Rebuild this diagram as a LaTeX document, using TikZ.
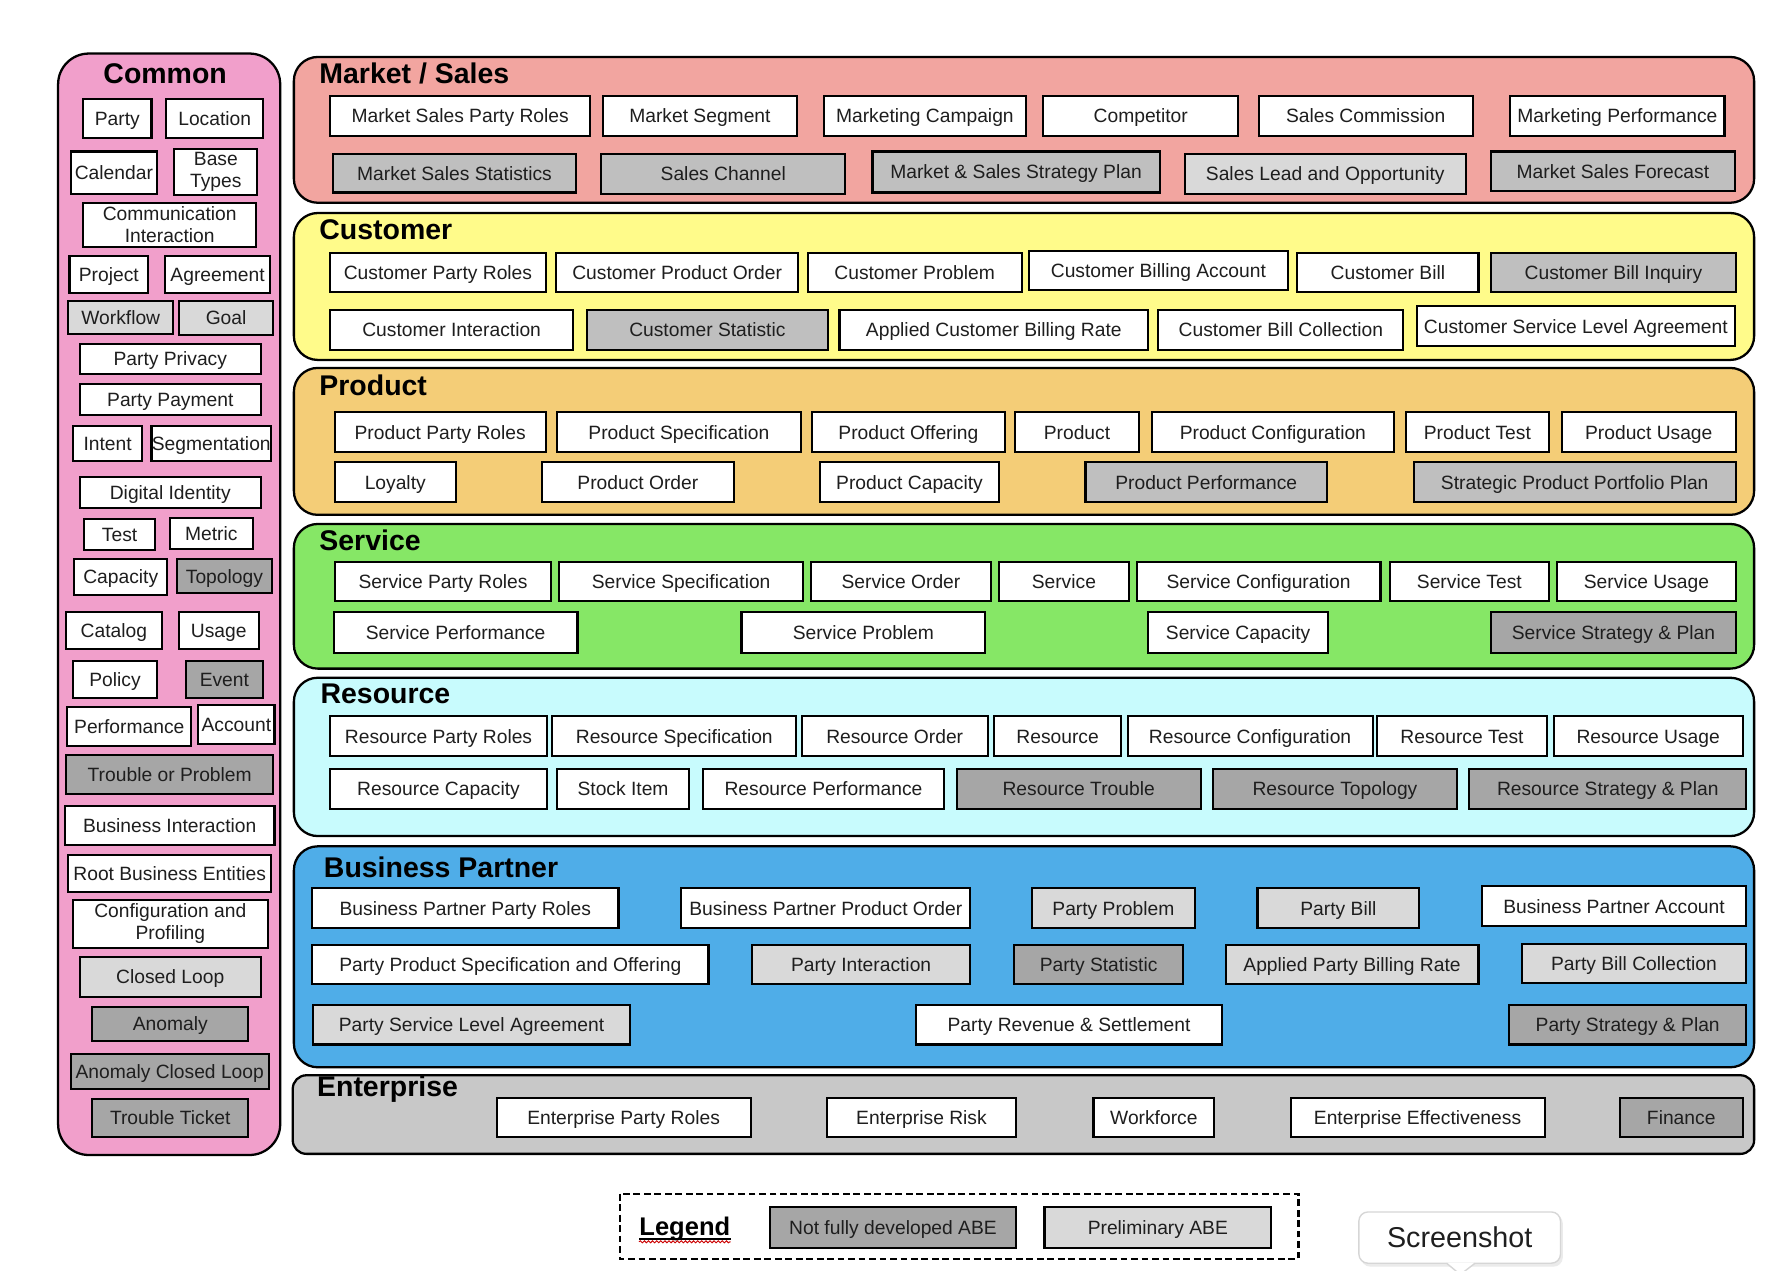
\documentclass[tikz,border=0pt]{standalone}
\usepackage{fontspec}
\setmainfont{Liberation Sans}
\usetikzlibrary{decorations.pathmorphing}
\definecolor{commonc}{HTML}{F19FCB}
\definecolor{marketc}{HTML}{F2A5A0}
\definecolor{customerc}{HTML}{FFFB8A}
\definecolor{productc}{HTML}{F4CD77}
\definecolor{servicec}{HTML}{86E766}
\definecolor{resourcec}{HTML}{C8FBFD}
\definecolor{bpc}{HTML}{4FADE8}
\definecolor{enterc}{HTML}{C8C8C8}
\definecolor{gdark}{HTML}{A6A6A6}
\definecolor{gmid}{HTML}{BFBFBF}
\definecolor{glight}{HTML}{D9D9D9}
\definecolor{txt}{HTML}{1E1E1E}
\tikzset{
  abe/.style={draw=black, line width=0.9pt, inner sep=0pt, outer sep=0pt,
    align=center, text=txt, font=\fontsize{8.45pt}{9.6pt}\selectfont},
  panel/.style={draw=black, line width=1pt},
  ptitle/.style={font=\fontsize{12.5pt}{14pt}\selectfont\bfseries, anchor=base west, inner sep=0pt, text=black},
}
\newcommand{\abx}[7]{%
  \node[abe, fill=#6, minimum width={(#4-#2)*0.5pt}, minimum height={(#5-#3)*0.5pt},
    text height=7pt, text depth=0.95pt] (#1) at ({(#2+#4)/2},{(#3+#5)/2}) {#7};}
\newcommand{\abxm}[7]{%
  \node[abe, fill=#6, minimum width={(#4-#2)*0.5pt}, minimum height={(#5-#3)*0.5pt}]
    (#1) at ({(#2+#4)/2},{(#3+#5)/2}) {#7};}
\begin{document}
\begin{tikzpicture}[x=0.5pt,y=-0.5pt]
\useasboundingbox (0,0) rectangle (1568,1115);
\fill[white] (0,0) rectangle (1568,1115);

% ---------- panels ----------
\draw[panel, fill=commonc, rounded corners=13.5pt] (51,47) rectangle (246,1014);
\draw[panel, fill=marketc, rounded corners=10.5pt] (258,50) rectangle (1540,178);
\draw[panel, fill=customerc, rounded corners=10.5pt] (258,187) rectangle (1540,316);
\draw[panel, fill=productc, rounded corners=10.5pt] (258,323) rectangle (1540,452);
\draw[panel, fill=servicec, rounded corners=10.5pt] (258,460) rectangle (1540,587);
\draw[panel, fill=resourcec, rounded corners=10.5pt] (258,595) rectangle (1540,734);
\draw[panel, fill=bpc, rounded corners=10.5pt] (258,743) rectangle (1540,937);
\draw[panel, fill=enterc, rounded corners=6pt] (257,944) rectangle (1540,1013);

% ---------- titles ----------
\node[ptitle, anchor=base] (tcommon) at (145,73) {Common};
\node[ptitle] (tmarket) at (280,73) {Market / Sales};
\node[ptitle] (tcustomer) at (280,210) {Customer};
\node[ptitle] (tproduct) at (280,347) {Product};
\node[ptitle] (tservice) at (280,483) {Service};
\node[ptitle] (tresource) at (281,618) {Resource};
\node[ptitle] (tbp) at (284,770) {Business Partner};
\node[ptitle] (tenter) at (278,963) {Enterprise};

% ---------- Common ----------
\abx{party}{73}{87}{133}{121}{white}{Party}
\abx{location}{146}{87}{231}{121}{white}{Location}
\abx{calendar}{62}{133}{138}{170}{white}{Calendar}
\abxm{basetypes}{153}{131}{226}{171}{white}{Base\\Types}
\abxm{comm}{73}{178}{225}{217}{white}{Communication\\Interaction}
\abx{project}{61}{225}{130}{257}{white}{Project}
\abx{agreement}{145}{225}{237}{257}{white}{Agreement}
\abx{workflow}{60}{264}{152}{293}{glight}{Workflow}
\abx{goal}{157}{264}{240}{294}{glight}{Goal}
\abx{privacy}{70}{302}{229}{328}{white}{Party Privacy}
\abx{payment}{70}{337}{229}{364}{white}{Party Payment}
\abx{intent}{64}{374}{125}{405}{white}{Intent}
\abx{segm}{133}{374}{238}{405}{white}{Segmentation}
\abx{digid}{70}{419}{229}{446}{white}{Digital Identity}
\abx{test}{74}{456}{136}{483}{white}{Test}
\abx{metric}{149}{455}{222}{482}{white}{Metric}
\abx{capacity}{65}{491}{147}{522}{white}{Capacity}
\abx{topology}{155}{491}{239}{521}{gdark}{Topology}
\abx{catalog}{58}{537}{142}{570}{white}{Catalog}
\abx{usage}{157}{537}{227}{570}{white}{Usage}
\abx{policy}{64}{580}{138}{613}{white}{Policy}
\abx{event}{163}{580}{231}{613}{gdark}{Event}
\abx{perf}{59}{621}{168}{655}{white}{Performance}
\abx{account}{174}{619}{241}{653}{white}{Account}
\abx{trouble}{58}{663}{240}{697}{gdark}{Trouble or Problem}
\abx{bizint}{57}{708}{241}{742}{white}{Business Interaction}
\abx{rootbe}{60}{751}{238}{783}{white}{Root Business Entities}
\abxm{config}{64}{790}{235}{832}{white}{Configuration and\\Profiling}
\abx{closedloop}{70}{840}{229}{875}{glight}{Closed Loop}
\abx{anomaly}{81}{884}{218}{914}{gdark}{Anomaly}
\abx{anomalycl}{62}{925}{236}{956}{gdark}{Anomaly Closed Loop}
\abx{tticket}{81}{965}{218}{998}{gdark}{Trouble Ticket}

% ---------- Market / Sales ----------
\abx{msproles}{290}{84}{518}{119}{white}{Market Sales Party Roles}
\abx{mseg}{529}{84}{700}{119}{white}{Market Segment}
\abx{mcamp}{723}{84}{901}{119}{white}{Marketing Campaign}
\abx{compet}{916}{84}{1087}{119}{white}{Competitor}
\abx{scomm}{1105}{84}{1293}{119}{white}{Sales Commission}
\abx{mperf}{1326}{84}{1514}{119}{white}{Marketing Performance}
\abx{msstat}{292}{135}{506}{169}{gmid}{Market Sales Statistics}
\abx{schan}{528}{135}{742}{170}{gmid}{Sales Channel}
\abx{msplan}{766}{133}{1018}{169}{gmid}{Market \& Sales Strategy Plan}
\abx{slead}{1040}{135}{1287}{170}{glight}{Sales Lead and Opportunity}
\abx{msfore}{1309}{133}{1523}{168}{gmid}{Market Sales Forecast}

% ---------- Customer ----------
\abx{cproles}{290}{222}{479}{256}{white}{Customer Party Roles}
\abx{cporder}{488}{222}{701}{256}{white}{Customer Product Order}
\abx{cprob}{709}{222}{897}{256}{white}{Customer Problem}
\abx{cbacc}{903}{220}{1131}{255}{white}{Customer Billing Account}
\abx{cbill}{1139}{222}{1298}{256}{white}{Customer Bill}
\abx{cbinq}{1309}{222}{1524}{256}{gmid}{Customer Bill Inquiry}
\abx{cint}{290}{272}{503}{307}{white}{Customer Interaction}
\abx{cstat}{515}{272}{727}{307}{gmid}{Customer Statistic}
\abx{acbr}{737}{272}{1008}{307}{white}{Applied Customer Billing Rate}
\abx{cbcoll}{1017}{272}{1232}{307}{white}{Customer Bill Collection}
\abx{csla}{1244}{269}{1523}{304}{white}{Customer Service Level Agreement}

% ---------- Product ----------
\abx{pproles}{294}{362}{479}{397}{white}{Product Party Roles}
\abx{pspec}{489}{362}{703}{397}{white}{Product Specification}
\abx{poff}{713}{362}{882}{397}{white}{Product Offering}
\abx{prod}{891}{362}{1000}{397}{white}{Product}
\abx{pconf}{1011}{362}{1224}{397}{white}{Product Configuration}
\abx{ptest}{1234}{362}{1360}{397}{white}{Product Test}
\abx{pusage}{1371}{362}{1524}{397}{white}{Product Usage}
\abx{loyalty}{294}{406}{400}{441}{white}{Loyalty}
\abx{porder}{476}{406}{644}{441}{white}{Product Order}
\abx{pcap}{720}{406}{877}{441}{white}{Product Capacity}
\abx{pperf}{953}{406}{1165}{441}{gmid}{Product Performance}
\abx{sppp}{1241}{406}{1524}{441}{gmid}{Strategic Product Portfolio Plan}

% ---------- Service ----------
\abx{sproles}{294}{493}{484}{528}{white}{Service Party Roles}
\abx{sspec}{491}{493}{705}{528}{white}{Service Specification}
\abx{sorder}{712}{493}{870}{528}{white}{Service Order}
\abx{serv}{877}{493}{991}{528}{white}{Service}
\abx{sconf}{998}{493}{1212}{528}{white}{Service Configuration}
\abx{stest}{1220}{493}{1360}{528}{white}{Service Test}
\abx{susage}{1367}{493}{1524}{528}{white}{Service Usage}
\abx{sperf}{293}{537}{507}{573}{white}{Service Performance}
\abx{sprob}{651}{537}{865}{573}{white}{Service Problem}
\abx{scap}{1008}{537}{1166}{573}{white}{Service Capacity}
\abx{ssplan}{1309}{537}{1524}{573}{gdark}{Service Strategy \& Plan}

% ---------- Resource ----------
\abx{rproles}{290}{629}{480}{664}{white}{Resource Party Roles}
\abx{rspec}{485}{629}{699}{664}{white}{Resource Specification}
\abx{rorder}{704}{629}{867}{664}{white}{Resource Order}
\abx{res}{873}{629}{984}{664}{white}{Resource}
\abx{rconf}{990}{629}{1205}{664}{white}{Resource Configuration}
\abx{rtest}{1209}{629}{1358}{664}{white}{Resource Test}
\abx{rusage}{1364}{629}{1530}{664}{white}{Resource Usage}
\abx{rcap}{290}{675}{480}{710}{white}{Resource Capacity}
\abx{stock}{489}{675}{605}{710}{white}{Stock Item}
\abx{rperf}{617}{675}{829}{710}{white}{Resource Performance}
\abx{rtrouble}{840}{675}{1054}{710}{gdark}{Resource Trouble}
\abx{rtopo}{1065}{675}{1279}{710}{gdark}{Resource Topology}
\abx{rsplan}{1290}{675}{1533}{710}{gdark}{Resource Strategy \& Plan}

% ---------- Business Partner ----------
\abx{bpproles}{274}{780}{543}{815}{white}{Business Partner Party Roles}
\abx{bppo}{598}{780}{852}{815}{white}{Business Partner Product Order}
\abx{pprob}{906}{780}{1049}{815}{glight}{Party Problem}
\abx{pbill}{1104}{780}{1246}{815}{glight}{Party Bill}
\abx{bpacc}{1301}{778}{1533}{813}{white}{Business Partner Account}
\abx{ppso}{274}{830}{622}{864}{white}{Party Product Specification and Offering}
\abx{pint}{660}{830}{852}{864}{glight}{Party Interaction}
\abx{pstat}{890}{830}{1039}{864}{gdark}{Party Statistic}
\abx{apbr}{1076}{830}{1298}{864}{glight}{Applied Party Billing Rate}
\abx{pbcoll}{1336}{829}{1533}{863}{glight}{Party Bill Collection}
\abx{psla}{275}{882}{553}{917}{glight}{Party Service Level Agreement}
\abx{prevs}{804}{882}{1073}{917}{white}{Party Revenue \& Settlement}
\abx{psplan}{1325}{882}{1533}{917}{gdark}{Party Strategy \& Plan}

% ---------- Enterprise ----------
\abx{eproles}{436}{964}{659}{998}{white}{Enterprise Party Roles}
\abx{erisk}{726}{964}{892}{998}{white}{Enterprise Risk}
\abx{workforce}{960}{964}{1066}{998}{white}{Workforce}
\abx{eeff}{1133}{964}{1356}{998}{white}{Enterprise Effectiveness}
\abx{finance}{1422}{964}{1530}{998}{gdark}{Finance}

% ---------- Legend ----------
\draw[line width=0.9pt, dash pattern=on 3pt off 1.6pt] (544,1048) rectangle (1140,1105);
\node[font=\fontsize{11.2pt}{13pt}\selectfont\bfseries, anchor=base west, inner sep=0pt, text=black] (legendlbl) at (561,1085) {Legend};
\draw[line width=0.7pt] ([yshift=-1.3pt]legendlbl.base west) -- ([yshift=-1.3pt]legendlbl.base east);
\draw[red!80!black, line width=0.4pt, decorate, decoration={snake, amplitude=0.45pt, segment length=1.8pt}]
  ([yshift=-2.6pt]legendlbl.base west) -- ([yshift=-2.6pt]legendlbl.base east);
\abx{lnfd}{676}{1060}{892}{1096}{gdark}{Not fully developed ABE}
\abx{lpre}{917}{1060}{1116}{1096}{glight}{Preliminary ABE}

% ---------- Screenshot tooltip ----------
\fill[black!8, rounded corners=4pt] (1195,1066) rectangle (1372,1112);
\node[draw=black!16, line width=0.6pt, fill=white, rounded corners=4pt, inner sep=0pt,
  minimum width=88.5pt, minimum height=22.5pt, text=black!88,
  font=\fontsize{12.6pt}{14pt}\selectfont] (shot) at (1281.5,1086.5) {Screenshot};
\fill[white] (1270,1108.5) -- (1282,1119) -- (1295,1108.5) -- cycle;
\draw[black!16, line width=0.6pt] (1270,1109) -- (1282,1119) -- (1295,1109);
\end{tikzpicture}
\end{document}
